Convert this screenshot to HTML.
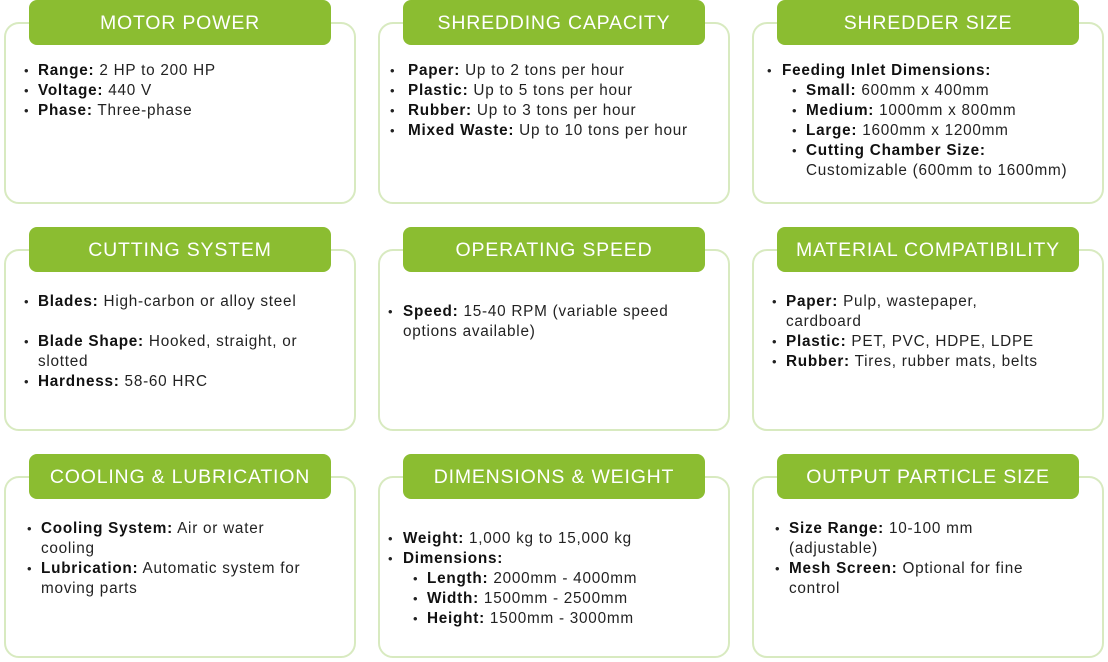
<!DOCTYPE html>
<html><head><meta charset="utf-8"><style>
body{margin:0;width:1108px;height:662px;background:#fff;position:relative;overflow:hidden;font-family:"Liberation Sans",sans-serif;color:#222;}
.card{position:absolute;width:352px;height:182px;border:2px solid #d8eac0;border-radius:15px;box-sizing:border-box;background:#fff;}
.hd{position:absolute;width:302px;height:45px;background:#8bbd31;border-radius:8px;color:#fff;font-size:19.5px;text-align:center;line-height:46px;letter-spacing:0.8px;}
.t{position:absolute;font-size:15.3px;line-height:20px;letter-spacing:0.75px;white-space:nowrap;color:#222;}
.t b{color:#111;}
.d{position:absolute;font-size:13px;line-height:20px;color:#222;}
</style></head><body>
<div class="card" style="left:4px;top:22px"></div>
<div class="card" style="left:378px;top:22px"></div>
<div class="card" style="left:752px;top:22px"></div>
<div class="card" style="left:4px;top:249px"></div>
<div class="card" style="left:378px;top:249px"></div>
<div class="card" style="left:752px;top:249px"></div>
<div class="card" style="left:4px;top:476px"></div>
<div class="card" style="left:378px;top:476px"></div>
<div class="card" style="left:752px;top:476px"></div>

<div class="hd" style="left:29px;top:0">MOTOR POWER</div>
<div class="hd" style="left:403px;top:0">SHREDDING CAPACITY</div>
<div class="hd" style="left:777px;top:0">SHREDDER SIZE</div>
<div class="hd" style="left:29px;top:227px">CUTTING SYSTEM</div>
<div class="hd" style="left:403px;top:227px">OPERATING SPEED</div>
<div class="hd" style="left:777px;top:227px">MATERIAL COMPATIBILITY</div>
<div class="hd" style="left:29px;top:454px">COOLING &amp; LUBRICATION</div>
<div class="hd" style="left:403px;top:454px">DIMENSIONS &amp; WEIGHT</div>
<div class="hd" style="left:777px;top:454px">OUTPUT PARTICLE SIZE</div>

<div class="d" style="left:24px;top:61px">•<br>•<br>•</div>
<div class="t" style="left:38px;top:61px"><b>Range:</b> 2 HP to 200 HP<br><b>Voltage:</b> 440 V<br><b>Phase:</b> Three-phase</div>

<div class="d" style="left:390px;top:61px">•<br>•<br>•<br>•</div>
<div class="t" style="left:408px;top:61px"><b>Paper:</b> Up to 2 tons per hour<br><b>Plastic:</b> Up to 5 tons per hour<br><b>Rubber:</b> Up to 3 tons per hour<br><b>Mixed Waste:</b> Up to 10 tons per hour</div>

<div class="d" style="left:767px;top:61px">•</div>
<div class="t" style="left:782px;top:61px"><b>Feeding Inlet Dimensions:</b></div>
<div class="d" style="left:792px;top:81px">•<br>•<br>•<br>•</div>
<div class="t" style="left:806px;top:81px"><b>Small:</b> 600mm x 400mm<br><b>Medium:</b> 1000mm x 800mm<br><b>Large:</b> 1600mm x 1200mm<br><b>Cutting Chamber Size:</b><br>Customizable (600mm to 1600mm)</div>

<div class="d" style="left:24px;top:292px">•</div>
<div class="t" style="left:38px;top:292px"><b>Blades:</b> High-carbon or alloy steel</div>
<div class="d" style="left:24px;top:332px">•<br><br>•</div>
<div class="t" style="left:38px;top:332px"><b>Blade Shape:</b> Hooked, straight, or<br>slotted<br><b>Hardness:</b> 58-60 HRC</div>

<div class="d" style="left:388px;top:302px">•</div>
<div class="t" style="left:403px;top:302px"><b>Speed:</b> 15-40 RPM (variable speed<br>options available)</div>

<div class="d" style="left:772px;top:292px">•<br><br>•<br>•</div>
<div class="t" style="left:786px;top:292px"><b>Paper:</b> Pulp, wastepaper,<br>cardboard<br><b>Plastic:</b> PET, PVC, HDPE, LDPE<br><b>Rubber:</b> Tires, rubber mats, belts</div>

<div class="d" style="left:27px;top:519px">•<br><br>•</div>
<div class="t" style="left:41px;top:519px"><b>Cooling System:</b> Air or water<br>cooling<br><b>Lubrication:</b> Automatic system for<br>moving parts</div>

<div class="d" style="left:388px;top:529px">•<br>•</div>
<div class="t" style="left:403px;top:529px"><b>Weight:</b> 1,000 kg to 15,000 kg<br><b>Dimensions:</b></div>
<div class="d" style="left:413px;top:569px">•<br>•<br>•</div>
<div class="t" style="left:427px;top:569px"><b>Length:</b> 2000mm - 4000mm<br><b>Width:</b> 1500mm - 2500mm<br><b>Height:</b> 1500mm - 3000mm</div>

<div class="d" style="left:775px;top:519px">•<br><br>•</div>
<div class="t" style="left:789px;top:519px"><b>Size Range:</b> 10-100 mm<br>(adjustable)<br><b>Mesh Screen:</b> Optional for fine<br>control</div>
</body></html>
